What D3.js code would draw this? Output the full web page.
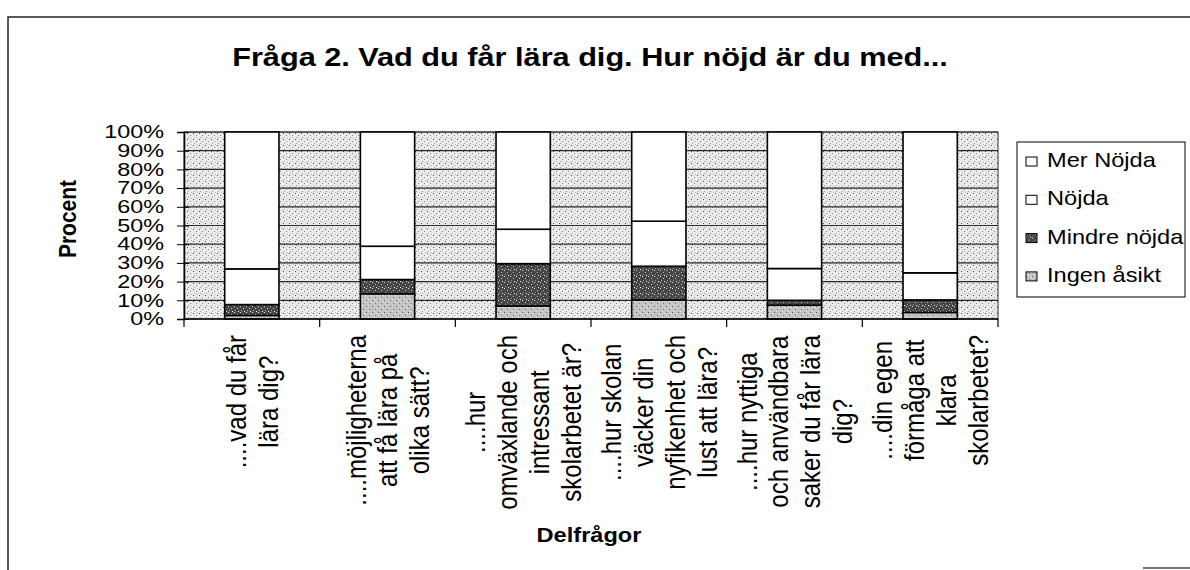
<!DOCTYPE html>
<html>
<head>
<meta charset="utf-8">
<script src="https://cdn.jsdelivr.net/npm/d3@7"></script>
<style>
  body { margin: 0; background: #fff; }
  text { font-family: "Liberation Sans", Arial, sans-serif; fill: #000; }
</style>
</head>
<body>
<div id="chart"></div>
<script>

// data (percent per answer)
const categoryLines = [
    ["....vad du får", "lära dig?"],
    ["....möjligheterna", "att få lära på", "olika sätt?"],
    ["....hur", "omväxlande och", "intressant", "skolarbetet är?"],
    ["....hur skolan", "väcker din", "nyfikenhet och", "lust att lära?"],
    ["....hur nyttiga", "och användbara", "saker du får lära", "dig?"],
    ["....din egen", "förmåga att", "klara", "skolarbetet?"]
]
const categories = categoryLines.map(l => l.join(' '))

const series = ['Ingen åsikt', 'Mindre nöjda', 'Nöjda', 'Mer Nöjda']
const ingenAsikt = [1.9, 13.5, 7.0, 10.2, 7.4, 3.5]
const mindreNojda = [5.8, 7.6, 22.6, 18.0, 2.6, 6.7]
const nojda = [19.1, 17.8, 18.4, 24.1, 17.0, 14.5]
const merNojda = [73.2, 61.1, 52.0, 47.7, 73.0, 75.3]

const yTicks = [0, 10, 20, 30, 40, 50, 60, 70, 80, 90, 100]
const yTickLabels = ['0%', '10%', '20%', '30%', '40%', '50%', '60%', '70%', '80%', '90%', '100%']


var width = 1190;
var height = 570;
// the scan is a bit wider than tall, so text gets stretched sideways
const SX = 1.18;

var svg = d3.select("#chart").append("svg")
    .attr("width", width)
    .attr("height", height)

const defs = svg.append('defs')

function stipple(id, bg, dots) {
    const p = defs.append('pattern')
        .attr('id', id)
        .attr('patternUnits', 'userSpaceOnUse')
        .attr('width', 6)
        .attr('height', 6)
    p.append('rect').attr('width', 6).attr('height', 6).attr('fill', bg)
    dots.forEach(d => {
        p.append('rect').attr('x', d[0]).attr('y', d[1])
            .attr('width', 1).attr('height', 1).attr('fill', d[2])
    })
}

stipple('bgDots', '#eaeaea', [[1, 1, '#555'], [4, 3, '#888'], [2, 5, '#999'], [5, 0, '#bbb']])
stipple('darkDots', '#474747', [[0, 0, '#ddd'], [3, 2, '#bbb'], [1, 4, '#999'], [4, 5, '#eee']])
stipple('lightDots', '#c4c4c4', [[0, 0, '#555'], [3, 3, '#777'], [5, 1, '#eee'], [2, 5, '#eee']])

const fills = {
    'Ingen åsikt': 'url(#lightDots)',
    'Mindre nöjda': 'url(#darkDots)',
    'Nöjda': '#fff',
    'Mer Nöjda': '#fff'
}

// outer frame (only left, top and a piece of the bottom show in the scan)
svg.append('path')
    .attr('d', 'M8,570 L8,17 L1190,17')
    .attr('fill', 'none')
    .attr('stroke', '#222')
    .attr('stroke-width', 1.5)
svg.append('line')
    .attr('x1', 1143).attr('x2', 1190).attr('y1', 568).attr('y2', 568)
    .attr('stroke', '#444').attr('stroke-width', 1.5)

// title
svg.append('text')
    .attr('transform', `translate(590,66) scale(${SX},1)`)
    .attr('text-anchor', 'middle')
    .style('font-size', '26px')
    .style('font-weight', 'bold')
    .text('Fråga 2. Vad du får lära dig. Hur nöjd är du med...')


const plot = { left: 184, right: 998, top: 132, bottom: 319 }

const x = d3.scaleBand()
    .domain(categories)
    .range([plot.left, plot.right])
    .paddingInner(0.6)
    .paddingOuter(0.3)

const y = d3.scaleLinear()
    .domain([0, 100])
    .range([plot.bottom, plot.top])

const rows = categories.map((c, i) => ({
    cat: c,
    'Ingen åsikt': ingenAsikt[i],
    'Mindre nöjda': mindreNojda[i],
    'Nöjda': nojda[i],
    'Mer Nöjda': merNojda[i]
}))

const stacked = d3.stack().keys(series)(rows)


// plot area background
svg.append('rect')
    .attr('x', plot.left)
    .attr('y', plot.top)
    .attr('width', plot.right - plot.left)
    .attr('height', plot.bottom - plot.top)
    .attr('fill', 'url(#bgDots)')
    .attr('stroke', '#333')
    .attr('stroke-width', 1)

// gridlines
svg.append('g')
    .selectAll('line')
    .data(yTicks.slice(1))
    .enter()
    .append('line')
    .attr('x1', plot.left)
    .attr('x2', plot.right)
    .attr('y1', d => y(d))
    .attr('y2', d => y(d))
    .attr('stroke', '#2a2a2a')
    .attr('stroke-width', 1.2)


// bars
svg.append('g')
    .selectAll('g')
    .data(stacked)
    .enter()
    .append('g')
    .attr('fill', d => fills[d.key])
    .selectAll('rect')
    .data(d => d)
    .enter()
    .append('rect')
    .attr('x', d => x(d.data.cat))
    .attr('width', x.bandwidth())
    .attr('y', d => y(d[1]))
    .attr('height', d => y(d[0]) - y(d[1]))
    .attr('stroke', '#000')
    .attr('stroke-width', 1.6)


// y axis, labels packed tight like the original
const yLabelSX = 1.3
const yAxisG = svg.append('g')
    .attr('transform', `translate(${plot.left},0)`)
    .call(d3.axisLeft(y)
        .tickValues(yTicks)
        .tickFormat((d, i) => yTickLabels[i])
        .tickSize(7))

yAxisG.select('.domain').attr('stroke', '#000').attr('stroke-width', 1.5)
yAxisG.selectAll('.tick line').attr('stroke', '#000').attr('x2', -7).attr('x1', 5)
yAxisG.selectAll('.tick text')
    .attr('x', -20 / yLabelSX)
    .attr('transform', `scale(${yLabelSX},1)`)
    .style('font-size', '18px')
    .style('font-family', '"Liberation Sans", Arial, sans-serif')
    .attr('fill', '#000')


// x axis: line plus ticks on the band boundaries
const step = x.step()
const gap = step - x.bandwidth()
const boundaries = categories.map(c => x(c) - gap / 2).concat([x(categories[categories.length - 1]) + x.bandwidth() + gap / 2])

svg.append('line')
    .attr('x1', plot.left).attr('x2', plot.right)
    .attr('y1', plot.bottom).attr('y2', plot.bottom)
    .attr('stroke', '#000').attr('stroke-width', 1.5)

svg.append('g')
    .selectAll('line')
    .data(boundaries)
    .enter()
    .append('line')
    .attr('x1', d => d).attr('x2', d => d)
    .attr('y1', plot.bottom).attr('y2', plot.bottom + 8)
    .attr('stroke', '#000').attr('stroke-width', 1.2)


// category labels, rotated and wrapped like the original
const lineH = 27
const labelTop = 335

const labelG = svg.append('g')
    .selectAll('g')
    .data(categoryLines)
    .enter()
    .append('g')
    .attr('transform', (d, i) => `translate(${x(categories[i]) + x.bandwidth() / 2},0) rotate(-90) scale(1,${SX})`)

labelG.each(function (lines) {
    const g = d3.select(this)
    const texts = g.selectAll('text')
        .data(lines)
        .enter()
        .append('text')
        .attr('text-anchor', 'middle')
        .attr('y', (d, j) => (j - (lines.length - 1) / 2) * lineH)
        .attr('dy', '0.35em')
        .style('font-size', '24px')
        .text(d => d)

    let maxLen = 0
    texts.each(function () { maxLen = Math.max(maxLen, this.getComputedTextLength()) })
    texts.attr('x', -(labelTop + maxLen / 2))
})


// axis titles
svg.append('text')
    .attr('transform', `translate(67,219) rotate(-90) scale(1,${SX})`)
    .attr('text-anchor', 'middle')
    .attr('dy', '0.35em')
    .style('font-size', '21px')
    .style('font-weight', 'bold')
    .text('Procent')

svg.append('text')
    .attr('transform', `translate(589,542) scale(${SX},1)`)
    .attr('text-anchor', 'middle')
    .style('font-size', '20px')
    .style('font-weight', 'bold')
    .text('Delfrågor')


// legend
const legendG = svg.append('g')

legendG.append('rect')
    .attr('x', 1017).attr('y', 142)
    .attr('width', 168).attr('height', 155)
    .attr('fill', '#fff')
    .attr('stroke', '#000')
    .attr('stroke-width', 1)

const legendItems = series.slice().reverse()

const item = legendG.selectAll('g.item')
    .data(legendItems)
    .enter()
    .append('g')
    .attr('class', 'item')
    .attr('transform', (d, i) => `translate(1026,${167 + i * 38.3})`)

item.append('rect')
    .attr('x', 0).attr('y', -10)
    .attr('width', 11).attr('height', 9)
    .attr('fill', d => fills[d])
    .attr('stroke', '#000')
    .attr('stroke-width', 1)

item.append('text')
    .attr('transform', `translate(21,0) scale(${SX},1)`)
    .style('font-size', '20px')
    .text(d => d)

</script>
</body>
</html>
